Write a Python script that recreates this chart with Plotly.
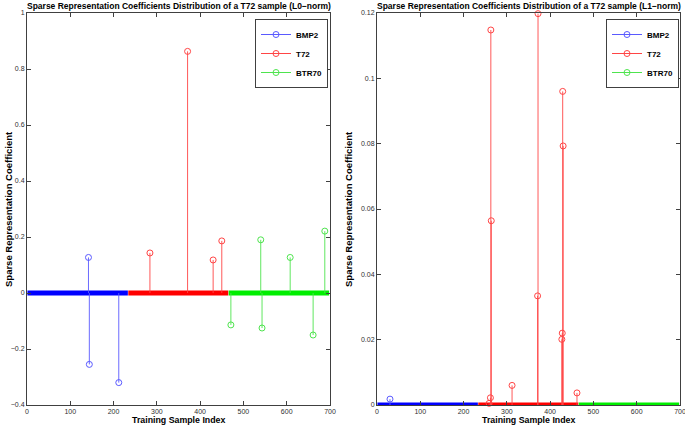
import plotly.graph_objects as go

# ---- data ----
classes = ["BMP2", "T72", "BTR70"]
class_start = [1, 234, 466]
class_end = [233, 465, 698]
colors_band = ["#0000ff", "#ff0000", "#00ee00"]
colors_stem = ["#5a5aff", "#ff4545", "#4ee44e"]

# L0-norm solution (left)
l0_idx = {
    "BMP2": [142, 144, 212],
    "T72": [284, 371, 430, 450],
    "BTR70": [471, 540, 543, 608, 661, 688],
}
l0_val = {
    "BMP2": [0.127, -0.255, -0.32],
    "T72": [0.143, 0.863, 0.118, 0.186],
    "BTR70": [-0.114, 0.19, -0.125, 0.127, -0.15, 0.221],
}

# L1-norm solution (right)
l1_idx = {
    "BMP2": [30],
    "T72": [263, 264, 262, 259, 312, 372, 371, 429, 430, 428, 427, 462],
    "BTR70": [],
}
l1_val = {
    "BMP2": [0.0018],
    "T72": [0.1148, 0.0564, 0.0022, 0.0005, 0.006, 0.1198, 0.0334, 0.096, 0.0793, 0.022, 0.0201, 0.0037],
    "BTR70": [],
}

left_yticks = [-0.4, -0.2, 0, 0.2, 0.4, 0.6, 0.8, 1]
right_yticks = [0, 0.02, 0.04, 0.06, 0.08, 0.1, 0.12]
xticks = [0, 100, 200, 300, 400, 500, 600, 700]

title_l = "Sparse Representation Coefficients Distribution of a T72 sample (L0\u2212norm)"
title_r = "Sparse Representation Coefficients Distribution of a T72 sample (L1\u2212norm)"
ytitle = "Sparse Representation Coefficient"
xtitle = "Training Sample Index"

FONT = "Liberation Sans, Arial, Helvetica, sans-serif"

fig = go.Figure()


def add_panel(idx, val, xa, ya, legend):
    for k, c in enumerate(classes):
        # zero band (coefficients at zero)
        fig.add_trace(go.Scatter(
            x=[class_start[k], class_end[k]], y=[0, 0], mode="lines",
            line=dict(color=colors_band[k], width=5),
            xaxis=xa, yaxis=ya, showlegend=False, hoverinfo="skip"))
    for k, c in enumerate(classes):
        xs, ys = [], []
        for i, v in zip(idx[c], val[c]):
            xs += [i, i, None]
            ys += [0, v, None]
        fig.add_trace(go.Scatter(
            x=xs, y=ys, mode="lines",
            line=dict(color=colors_stem[k], width=0.9),
            xaxis=xa, yaxis=ya, showlegend=False, hoverinfo="skip"))
        fig.add_trace(go.Scatter(
            x=idx[c], y=val[c], mode="markers",
            marker=dict(symbol="circle-open", size=6, color=colors_stem[k],
                        line=dict(width=1, color=colors_stem[k])),
            cliponaxis=False,
            xaxis=xa, yaxis=ya, showlegend=False))
        # legend entry
        fig.add_trace(go.Scatter(
            x=[None], y=[None], mode="lines+markers", name=c,
            line=dict(color=colors_stem[k], width=1),
            marker=dict(symbol="circle-open", size=6, color=colors_stem[k]),
            xaxis=xa, yaxis=ya, legend=legend))


add_panel(l0_idx, l0_val, "x", "y", "legend")
add_panel(l1_idx, l1_val, "x2", "y2", "legend2")

W, H = 685, 426
dl = (27 / W, 330 / W)
dr = (377 / W, 680 / W)
dy = ((H - 405) / H, (H - 13) / H)

axis_common = dict(
    showline=True, linecolor="#404040", linewidth=1, mirror="ticks",
    ticks="inside", ticklen=4, tickcolor="#404040",
    showgrid=False, zeroline=False, automargin=False,
    ticklabeloverflow="allow",
    tickfont=dict(family=FONT, size=7, color="#303030"),
)

legend_common = dict(
    xanchor="right", yanchor="top",
    bgcolor="white", bordercolor="#404040", borderwidth=1,
    font=dict(family=FONT, size=8, color="black", weight="bold"),
    itemwidth=30, tracegroupgap=0,
)

fig.update_layout(
    width=W, height=H,
    margin=dict(l=0, r=0, t=0, b=0, autoexpand=False),
    paper_bgcolor="white", plot_bgcolor="white",
    xaxis=dict(domain=dl, range=[0, 700], tickvals=xticks, anchor="y", ticklabelstandoff=0, **axis_common),
    yaxis=dict(domain=dy, range=[-0.4, 1], tickvals=left_yticks, anchor="x", **axis_common),
    xaxis2=dict(domain=dr, range=[0, 700], tickvals=xticks, anchor="y2", ticklabelstandoff=0, **axis_common),
    yaxis2=dict(domain=dy, range=[0, 0.12], tickvals=right_yticks, anchor="x2", **axis_common),
    legend=dict(x=328 / W, y=(H - 19) / H, **legend_common),
    legend2=dict(x=679 / W, y=(H - 19) / H, **legend_common),
    showlegend=True,
)

for cx, t in [((dl[0] + dl[1]) / 2, title_l), ((dr[0] + dr[1]) / 2, title_r)]:
    fig.add_annotation(x=cx, y=(H - 6) / H, xref="paper", yref="paper", text=t,
                       showarrow=False, xanchor="center", yanchor="middle",
                       font=dict(family=FONT, size=8.5, color="black", weight="bold"))
    fig.add_annotation(x=cx, y=(H - 419.5) / H, xref="paper", yref="paper", text=xtitle,
                       showarrow=False, xanchor="center", yanchor="middle",
                       font=dict(family=FONT, size=8.8, color="black", weight="bold"))
for px in [8, 348]:
    fig.add_annotation(x=px / W, y=(dy[0] + dy[1]) / 2, xref="paper", yref="paper", text=ytitle,
                       showarrow=False, xanchor="center", yanchor="middle", textangle=-90,
                       font=dict(family=FONT, size=9.5, color="black", weight="bold"))

fig.write_html("out.html",
               config={"displayModeBar": False},
               post_script="document.body.style.margin='0';document.body.style.overflow='hidden';")
